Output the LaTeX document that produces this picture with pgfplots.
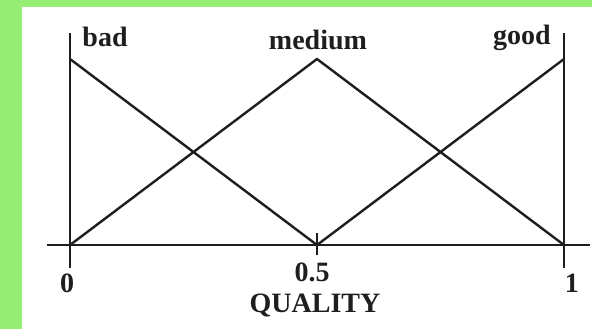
\documentclass[border=0pt]{standalone}
\usepackage{fontspec}
\setmainfont{Liberation Serif}
\usepackage{pgfplots}
\pgfplotsset{compat=1.18}
\definecolor{framegreen}{RGB}{150,237,115}
\definecolor{ink}{RGB}{30,30,30}

\begin{document}
\begin{tikzpicture}[lbl/.style={font=\fontsize{14}{16}\selectfont\bfseries, text=ink, inner sep=0pt}]
% page: 592x329 px at 0.5pt per px
\fill[framegreen] (0,0) rectangle (296pt,164.5pt);
\fill[white] (11pt,0) rectangle (296pt,161pt);
\begin{axis}[
    at={(0,0)}, anchor=south west,
    scale only axis,
    width=296pt, height=164.5pt,
    xmin=-0.1417, xmax=1.0567,
    ymin=-0.4516, ymax=1.3172,
    axis lines=none,
    clip=false,
]
% axis line and frame verticals
\addplot[ink, solid, line width=1.3pt, no marks] coordinates {(-0.0466,0) (1.0526,0)};
\addplot[ink, solid, line width=1.3pt, no marks] coordinates {(0,-0.124) (0,1.14)};
\addplot[ink, solid, line width=1.3pt, no marks] coordinates {(1,-0.124) (1,1.14)};
\addplot[ink, solid, line width=1.3pt, no marks] coordinates {(0.5,-0.054) (0.5,0.065)};
% membership functions
\addplot[ink, solid, line width=1.2pt, no marks] coordinates {(0,1) (0.5,0)};           % bad
\addplot[ink, solid, line width=1.2pt, no marks] coordinates {(0,0) (0.5,1) (1,0)};     % medium
\addplot[ink, solid, line width=1.2pt, no marks] coordinates {(0.5,0) (1,1)};           % good

\node[lbl] at (axis cs:0.0709,1.118) {bad};
\node[lbl] at (axis cs:0.502,1.102) {medium};
\node[lbl] at (axis cs:0.915,1.113) {good};
\node[lbl] at (axis cs:-0.006,-0.204) {0};
\node[lbl] at (axis cs:0.49,-0.145) {0.5};
\node[lbl] at (axis cs:1.016,-0.204) {1};
\node[lbl] at (axis cs:0.496,-0.323) {QUALITY};
\end{axis}
\end{tikzpicture}
\end{document}
